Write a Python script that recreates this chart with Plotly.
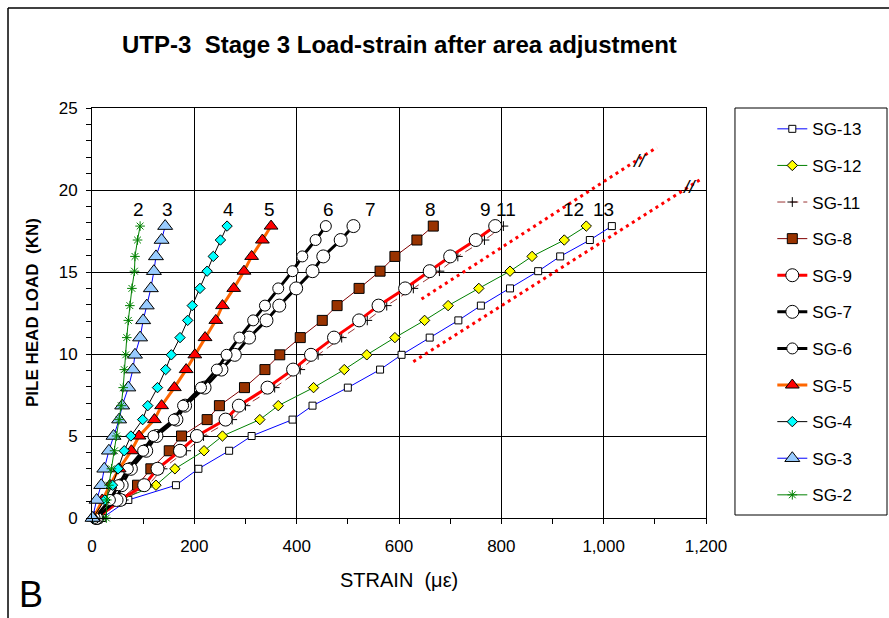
import plotly.graph_objects as go

# ---------------- data ----------------
load_kn = [0, 1.1, 2.0, 3.0, 4.1, 5.0, 6.0, 6.85, 7.95, 9.05, 9.95, 11.0, 12.05, 12.95, 14.0, 15.05, 15.95, 16.95, 17.8]

sg13 = [20, 71, 164, 208, 268, 312, 392, 431, 500, 563, 605, 660, 716, 760, 817, 872, 915, 973, 1016]
sg12 = [15, 55, 125, 162, 219, 255, 328, 364, 433, 493, 537, 592, 650, 696, 756, 817, 860, 923, 966]
sg11 = [12, 62, 110, 138, 184, 218, 274, 300, 357, 407, 442, 488, 538, 576, 628, 679, 715, 767, 804]
sg8 = [10, 55, 89, 115, 151, 175, 225, 249, 298, 338, 367, 407, 450, 479, 522, 563, 592, 635, 667]
sg9 = [10, 55, 102, 128, 172, 205, 261, 287, 343, 393, 428, 473, 522, 560, 612, 660, 700, 750, 788]
sg7 = [8, 48, 58, 76, 106, 126, 165, 182, 220, 253, 279, 307, 341, 366, 399, 431, 452, 486, 511]
sg6 = [5, 35, 52, 70, 100, 120, 160, 178, 213, 244, 263, 288, 315, 338, 364, 392, 411, 437, 457]
sg5 = [3, 20, 35, 53, 77, 92, 122, 136, 161, 184, 201, 221, 242, 255, 277, 297, 312, 333, 350]
sg4 = [2, 25, 40, 51, 63, 76, 99, 109, 128, 144, 155, 172, 187, 196, 211, 225, 237, 251, 264]
sg3 = [1, 9, 18, 24, 33, 42, 53, 59, 71, 80, 84, 94, 100, 107, 115, 121, 125, 136, 143]
sg2 = [28, 29, 33, 38, 44, 48, 53, 57, 61, 63, 66, 68, 71, 74, 78, 83, 84, 89, 94]

gauge_labels = ["2", "3", "4", "5", "6", "7", "8", "9", "11", "12", "13"]
gauge_label_x = [90, 147, 266, 346, 463, 545, 662, 770, 809, 942, 999]
gauge_label_y = 18.8

guide_upper_x = [644, 1104]
guide_upper_y = [13.35, 22.6]
guide_lower_x = [628, 1192]
guide_lower_y = [9.53, 20.7]
break_x = [1070, 1167]
break_y = [21.8, 20.2]

x_ticks = [0, 200, 400, 600, 800, 1000, 1200]
y_ticks = [0, 5, 10, 15, 20, 25]

FONT = "Liberation Sans, Arial, sans-serif"

# ---------------- figure ----------------
fig = go.Figure()

series = [
    ("SG-13", sg13, dict(color="#0000FF", width=1), dict(symbol="square", size=7, color="white", line=dict(color="black", width=1))),
    ("SG-12", sg12, dict(color="#008000", width=1), dict(symbol="diamond", size=8, color="#FFFF00", line=dict(color="black", width=1))),
    ("SG-11", sg11, dict(color="#993333", width=1, dash="8px,5px"), dict(symbol="cross-thin", size=7, color="black", line=dict(color="black", width=1))),
    ("SG-8", sg8, dict(color="#800000", width=1), dict(symbol="square", size=10, color="#993300", line=dict(color="black", width=1))),
    ("SG-9", sg9, dict(color="#FF0000", width=3), dict(symbol="circle", size=13, color="white", line=dict(color="black", width=1))),
    ("SG-7", sg7, dict(color="black", width=3), dict(symbol="circle", size=13, color="white", line=dict(color="black", width=1))),
    ("SG-6", sg6, dict(color="black", width=3), dict(symbol="circle", size=11, color="white", line=dict(color="black", width=1))),
    ("SG-5", sg5, dict(color="#FF6600", width=3), dict(symbol="triangle-up", size=12, color="#FF0000", line=dict(color="black", width=1))),
    ("SG-4", sg4, dict(color="black", width=1), dict(symbol="diamond", size=8, color="#00FFFF", line=dict(color="black", width=1))),
    ("SG-3", sg3, dict(color="#0000FF", width=1), dict(symbol="triangle-up", size=13, color="#99CCFF", line=dict(color="black", width=1))),
    ("SG-2", sg2, dict(color="#008000", width=1), dict(symbol="asterisk-open", size=8, color="#008000", line=dict(color="#008000", width=1))),
]

for name, xs, ln, mk in series:
    fig.add_trace(go.Scatter(
        x=xs, y=load_kn, name=name, mode="lines+markers",
        line=ln, marker=mk, legendgroup=name, cliponaxis=False,
    ))

# red dotted guide lines
for gx, gy in [(guide_upper_x, guide_upper_y), (guide_lower_x, guide_lower_y)]:
    fig.add_trace(go.Scatter(
        x=gx, y=gy, mode="lines", showlegend=False, hoverinfo="skip",
        line=dict(color="#FF0000", width=3, dash="3px,4px"), cliponaxis=False,
    ))

annotations = []
for t, x in zip(gauge_labels, gauge_label_x):
    annotations.append(dict(x=x, y=gauge_label_y, xref="x", yref="y", text=t, showarrow=False,
                            font=dict(family=FONT, size=19, color="black")))
for bx, by in zip(break_x, break_y):
    annotations.append(dict(x=bx, y=by, xref="x", yref="y", text="<i>//</i>", showarrow=False,
                            font=dict(family=FONT, size=19, color="black")))

# titles
annotations += [
    dict(x=0.5, y=1.1537, xref="paper", yref="paper", text="<b>UTP-3  Stage 3 Load-strain after area adjustment</b>",
         showarrow=False, font=dict(family=FONT, size=24, color="black"), xanchor="center", yanchor="middle"),
    dict(x=-0.0977, y=0.5, xref="paper", yref="paper", text="<b>PILE HEAD LOAD  (KN)</b>", textangle=-90,
         showarrow=False, font=dict(family=FONT, size=17, color="black"), xanchor="center", yanchor="middle"),
    dict(x=0.5, y=-0.151, xref="paper", yref="paper", text="STRAIN  (με)",
         showarrow=False, font=dict(family=FONT, size=20, color="black"), xanchor="center", yanchor="middle"),
    dict(x=-0.099, y=-0.1878, xref="paper", yref="paper", text="B",
         showarrow=False, font=dict(family=FONT, size=36, color="black"), xanchor="center", yanchor="middle"),
]

shapes = [
    # legend box
    dict(type="rect", xref="paper", yref="paper", x0=1.0472, x1=1.2948, y0=0.0073, y1=1.0,
         line=dict(color="black", width=1), fillcolor="white", layer="below"),
    # outer frame (left + top)
    dict(type="line", xref="paper", yref="paper", x0=-0.1368, x1=-0.1368, y0=1.2439, y1=-0.26,
         line=dict(color="black", width=1.5)),
    dict(type="line", xref="paper", yref="paper", x0=-0.1368, x1=1.31, y0=1.2439, y1=1.2439,
         line=dict(color="black", width=1.5)),
]

fig.update_layout(
    width=889, height=618,
    margin=dict(l=92, r=183, t=108, b=100),
    paper_bgcolor="white", plot_bgcolor="white",
    font=dict(family=FONT, color="black"),
    showlegend=True,
    legend=dict(x=1.108, y=0.992, xanchor="left", yanchor="top", bgcolor="rgba(0,0,0,0)",
                borderwidth=0, font=dict(family=FONT, size=17, color="black"),
                tracegroupgap=11.5, itemsizing="trace"),
    annotations=annotations,
    shapes=shapes,
)

fig.update_xaxes(
    range=[0, 1200], tickvals=x_ticks, tickformat=",", showgrid=True, gridcolor="black", gridwidth=1,
    zeroline=False, showline=True, linecolor="black", linewidth=1, mirror=True,
    ticks="outside", ticklen=5, tickcolor="black", ticklabelstandoff=8,
    minor=dict(dtick=100, ticks="outside", ticklen=5, tickcolor="black", showgrid=False),
    tickfont=dict(family=FONT, size=17, color="black"),
)
fig.update_yaxes(
    range=[0, 25], tickvals=y_ticks, showgrid=True, gridcolor="black", gridwidth=1,
    zeroline=False, showline=True, linecolor="black", linewidth=1, mirror=True,
    ticks="outside", ticklen=5, tickcolor="black", ticklabelstandoff=5,
    minor=dict(dtick=1, ticks="outside", ticklen=5, tickcolor="black", showgrid=False),
    tickfont=dict(family=FONT, size=17, color="black"),
)

fig.write_html("out.html")
